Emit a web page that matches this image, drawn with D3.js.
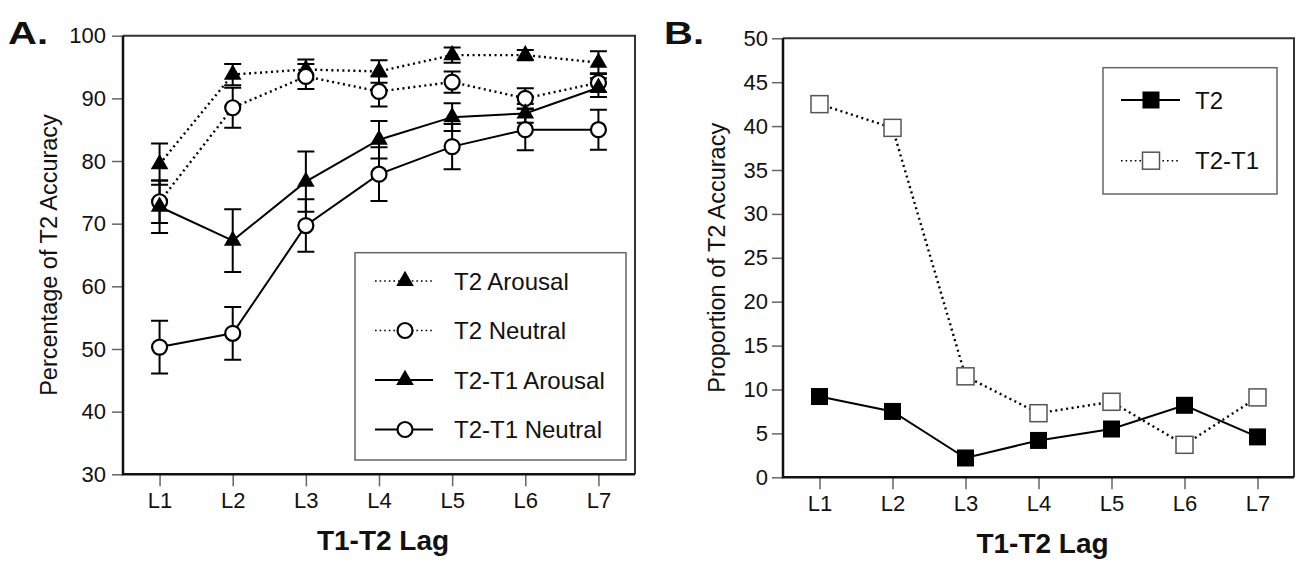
<!DOCTYPE html>
<html>
<head>
<meta charset="utf-8">
<script src="https://cdn.jsdelivr.net/npm/d3@7"></script>
<style>
  body { margin: 0; background: #fff; }
  text { font-family: "Liberation Sans", Arial, Helvetica, sans-serif; fill: #111; }
</style>
</head>
<body>
<svg id="chart" width="1297" height="565"></svg>
<script>
// data
var lags = ["L1", "L2", "L3", "L4", "L5", "L6", "L7"];

// panel A - percentage of T2 accuracy
var t2Arousal      = [79.5, 93.8, 94.6, 94.3, 96.9, 96.9, 95.7];
var t2ArousalErr   = [3.3, 1.7, 1.6, 1.8, 1.2, 0.8, 1.8];
var t2Neutral      = [73.5, 88.5, 93.5, 91.1, 92.6, 90.0, 92.5];
var t2NeutralErr   = [3.4, 3.2, 2.0, 2.4, 1.7, 1.6, 1.5];
var t2t1Arousal    = [72.7, 67.3, 76.7, 83.4, 87.0, 87.6, 91.7];
var t2t1ArousalErr = [4.2, 5.0, 4.8, 3.0, 2.2, 1.5, 1.5];
var t2t1Neutral    = [50.3, 52.5, 69.7, 77.9, 82.3, 85.0, 85.0];
var t2t1NeutralErr = [4.2, 4.2, 4.2, 4.3, 3.6, 3.3, 3.2];
var ticksA = [30, 40, 50, 60, 70, 80, 90, 100];

// panel B - proportion of T2 accuracy
var propT2   = [9.2, 7.5, 2.2, 4.2, 5.5, 8.2, 4.6];
var propT2T1 = [42.5, 39.8, 11.5, 7.3, 8.6, 3.7, 9.1];
var ticksB = [0, 5, 10, 15, 20, 25, 30, 35, 40, 45, 50];

var svg = d3.select("#chart");
var DOT = "2,3.5";

function drawFrame(box, x, y, yTicks) {
  var g = svg.append("g");
  // y axis
  var ya = g.append("g")
      .attr("transform", "translate(" + box.left + ",0)")
      .call(d3.axisLeft(y).tickValues(yTicks).tickSize(11).tickPadding(box.ypad));
  ya.select(".domain").remove();
  ya.selectAll(".tick line").attr("stroke", "#666").attr("stroke-width", 1.5);
  ya.selectAll(".tick text").style("font-size", "22px").attr("fill", "#111");

  var xa = g.append("g")
      .attr("transform", "translate(0," + box.bottom + ")")
      .call(d3.axisBottom(x).tickSize(12).tickPadding(6));
  xa.select(".domain").remove();
  xa.selectAll(".tick line").attr("stroke", "#666").attr("stroke-width", 1.5);
  xa.selectAll(".tick text").style("font-size", "22px").attr("fill", "#111");

  // top + right frame
  g.append("path")
      .attr("d", "M" + box.left + "," + box.top + "H" + box.right + "V" + box.bottom)
      .attr("fill", "none").attr("stroke", "#333").attr("stroke-width", 2);
  // left + bottom axis lines
  g.append("path")
      .attr("d", "M" + box.left + "," + box.top + "V" + box.bottom + "H" + box.right)
      .attr("fill", "none").attr("stroke", "#111").attr("stroke-width", 2.5);

  // titles
  g.append("text")
      .attr("x", (box.left + box.right) / 2 + 4).attr("y", box.bottom + 76)
      .attr("text-anchor", "middle")
      .style("font-size", "28px").style("font-weight", "bold")
      .text("T1-T2 Lag");
  g.append("text")
      .attr("transform", "translate(" + box.ytx + "," + (box.top + box.bottom) / 2 + ") rotate(-90)")
      .attr("text-anchor", "middle")
      .style("font-size", "23.5px")
      .text(box.ytitle);
  g.append("text")
      .attr("transform", "translate(" + box.lx + ",44) scale(1.25,1)")
      .style("font-size", "32px").style("font-weight", "bold")
      .text(box.label);
  return g;
}

// ---------------- panel A ----------------
var boxA = { left: 123, right: 635, top: 35.7, bottom: 474.3, ypad: 6, ytx: 57,
             ytitle: "Percentage of T2 Accuracy", label: "A.", lx: 8 };
var xA = d3.scalePoint().domain(lags).range([boxA.left, boxA.right]).padding(0.5);
var yA = d3.scaleLinear().domain([30, 100]).range([boxA.bottom, boxA.top]);
drawFrame(boxA, xA, yA, ticksA);

var seriesA = [
  { name: "T2 Arousal",     vals: t2Arousal,   err: t2ArousalErr,   dash: DOT,  marker: "tri" },
  { name: "T2 Neutral",     vals: t2Neutral,   err: t2NeutralErr,   dash: DOT,  marker: "circ" },
  { name: "T2-T1 Arousal",  vals: t2t1Arousal, err: t2t1ArousalErr, dash: null, marker: "tri" },
  { name: "T2-T1 Neutral",  vals: t2t1Neutral, err: t2t1NeutralErr, dash: null, marker: "circ" }
];

var triPath = d3.symbol().type(d3.symbolTriangle).size(135)();

function addMarker(sel, kind) {
  if (kind == "tri") {
    sel.append("path").attr("d", triPath).attr("fill", "#000");
  } else if (kind == "circ") {
    sel.append("circle").attr("r", 7.5).attr("fill", "#fff")
        .attr("stroke", "#000").attr("stroke-width", 2.2);
  } else if (kind == "fsq") {
    sel.append("rect").attr("x", -8.5).attr("y", -8.5).attr("width", 17).attr("height", 17)
        .attr("fill", "#000");
  } else {
    sel.append("rect").attr("x", -8.5).attr("y", -8.5).attr("width", 17).attr("height", 17)
        .attr("fill", "#fff").attr("stroke", "#555").attr("stroke-width", 1.5);
  }
}

var lineA = d3.line()
    .x(function(d, i) { return xA(lags[i]); })
    .y(function(d) { return yA(d); });

var gA = svg.append("g");
seriesA.forEach(function(s) {
  gA.append("path").datum(s.vals)
      .attr("d", lineA)
      .attr("fill", "none").attr("stroke", "#000")
      .attr("stroke-width", s.dash ? 2.4 : 2)
      .attr("stroke-dasharray", s.dash);
});
// error bars
seriesA.forEach(function(s) {
  var eb = gA.append("g").selectAll("g").data(s.vals).enter().append("g")
      .attr("transform", function(d, i) { return "translate(" + xA(lags[i]) + ",0)"; });
  eb.append("path")
      .attr("d", function(d, i) {
        var hi = yA(d + s.err[i]), lo = yA(d - s.err[i]);
        return "M0," + hi + "V" + lo + "M-8.5," + hi + "H8.5M-8.5," + lo + "H8.5";
      })
      .attr("fill", "none").attr("stroke", "#000").attr("stroke-width", 2);
});
seriesA.forEach(function(s) {
  var m = gA.append("g").selectAll("g").data(s.vals).enter().append("g")
      .attr("transform", function(d, i) { return "translate(" + xA(lags[i]) + "," + yA(d) + ")"; });
  addMarker(m, s.marker);
});

// legend A
var legA = svg.append("g");
legA.append("rect").attr("x", 355).attr("y", 252.7).attr("width", 271).attr("height", 207.3)
    .attr("fill", "#fff").attr("stroke", "#666").attr("stroke-width", 1.5);
seriesA.forEach(function(s, i) {
  var row = legA.append("g").attr("transform", "translate(0," + (281 + i * 49.5) + ")");
  row.append("line").attr("x1", 375).attr("x2", 433)
      .attr("stroke", "#000").attr("stroke-width", s.dash ? 1.6 : 2)
      .attr("stroke-dasharray", s.dash ? "1.6,3" : null);
  var mk = row.append("g").attr("transform", "translate(405,0)");
  addMarker(mk, s.marker);
  row.append("text").attr("x", 454).attr("dy", "0.36em")
      .style("font-size", "24px").text(s.name);
});

// ---------------- panel B ----------------
var boxB = { left: 783, right: 1294, top: 38.3, bottom: 477.3, ypad: 4, ytx: 725,
             ytitle: "Proportion of T2 Accuracy", label: "B.", lx: 664 };
var xB = d3.scalePoint().domain(lags).range([boxB.left, boxB.right]).padding(0.5);
var yB = d3.scaleLinear().domain([0, 50]).range([boxB.bottom, boxB.top]);
drawFrame(boxB, xB, yB, ticksB);

var seriesB = [
  { name: "T2",    vals: propT2,   dash: null, marker: "fsq" },
  { name: "T2-T1", vals: propT2T1, dash: DOT,  marker: "osq" }
];
var lineB = d3.line()
    .x(function(d, i) { return xB(lags[i]); })
    .y(function(d) { return yB(d); });

var gB = svg.append("g");
seriesB.forEach(function(s) {
  gB.append("path").datum(s.vals).attr("d", lineB)
      .attr("fill", "none").attr("stroke", "#000")
      .attr("stroke-width", s.dash ? 2.4 : 2)
      .attr("stroke-dasharray", s.dash);
});
seriesB.forEach(function(s) {
  var m = gB.append("g").selectAll("g").data(s.vals).enter().append("g")
      .attr("transform", function(d, i) { return "translate(" + xB(lags[i]) + "," + yB(d) + ")"; });
  addMarker(m, s.marker);
});

// legend B
var legB = svg.append("g");
legB.append("rect").attr("x", 1103).attr("y", 67.7).attr("width", 174).attr("height", 126.3)
    .attr("fill", "#fff").attr("stroke", "#666").attr("stroke-width", 1.5);
seriesB.forEach(function(s, i) {
  var row = legB.append("g").attr("transform", "translate(0," + (100 + i * 60.7) + ")");
  row.append("line").attr("x1", 1121).attr("x2", 1180)
      .attr("stroke", "#000").attr("stroke-width", s.dash ? 1.6 : 2)
      .attr("stroke-dasharray", s.dash ? "1.6,3" : null);
  var mk = row.append("g").attr("transform", "translate(1151,0)");
  addMarker(mk, s.marker);
  row.append("text").attr("x", 1195).attr("dy", "0.36em")
      .style("font-size", "24px").text(s.name);
});
</script>
</body>
</html>
